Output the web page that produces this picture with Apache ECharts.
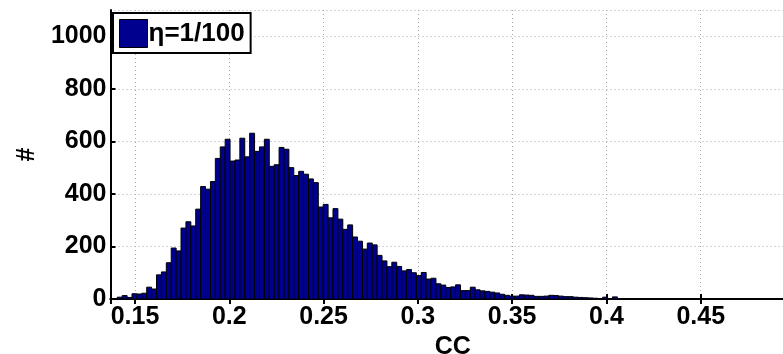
<!DOCTYPE html>
<html>
<head>
<meta charset="utf-8">
<script src="https://cdn.jsdelivr.net/npm/echarts@6/dist/echarts.min.js"></script>
<style>
  html, body { margin: 0; padding: 0; background: #fff; }
  #chart { width: 783px; height: 354px; }
</style>
</head>
<body>
<div id="chart"></div>
<script>
// histogram of CC, eta = 1/100 (bin counts)
const binStart = 0.1406;
const binWidth = 0.0026;
const counts = [
  7, 13, 6, 20, 19, 22, 45, 38, 92, 103,
  138, 194, 183, 270, 294, 278, 342, 428, 418, 447,
  535, 579, 608, 525, 529, 612, 541, 631, 562, 579,
  608, 505, 511, 577, 570, 500, 470, 486, 475, 457,
  443, 350, 360, 309, 344, 304, 265, 282, 236, 220,
  190, 213, 206, 166, 145, 123, 140, 124, 107, 112,
  100, 89, 101, 76, 79, 58, 53, 44, 46, 54,
  32, 32, 45, 35, 31, 29, 26, 23, 18, 14,
  11, 11, 16, 15, 14, 10, 10, 11, 14, 13,
  11, 9, 9, 7, 6, 5, 4, 3, 1, 7,
  0, 8
];
const seriesName = 'η=1/100';
const xName = 'CC';
const yName = '#';

const FONT = "'Liberation Sans', Arial, sans-serif";
const bins = counts.map((c, i) => [binStart + i * binWidth, binStart + (i + 1) * binWidth, c]);

const chart = echarts.init(document.getElementById('chart'));

const labelStyle = {color: '#000', fontFamily: FONT, fontWeight: 'bold', fontSize: 25};
const grid = {type: [1, 3], color: '#a8a8a8', width: 1};

chart.setOption({
  animation: false,
  grid: {left: 110.5, right: -12, top: 10, bottom: 55, outerBoundsMode: 'none', containLabel: false},
  legend: {
    left: 113, top: 13,
    padding: [6, 6, 5, 6],
    backgroundColor: '#fff',
    borderColor: '#000', borderWidth: 2, borderRadius: 0,
    itemWidth: 28, itemHeight: 28,
    icon: 'rect',
    itemStyle: {borderColor: '#000', borderWidth: 1},
    textStyle: {color: '#000', fontFamily: FONT, fontWeight: 'bold', fontSize: 26, padding: [0, 0, 0, -4]},
    data: [seriesName]
  },
  xAxis: [{
    type: 'value', min: 0.137, max: 0.5, splitNumber: 7,
    name: xName, nameLocation: 'middle', nameGap: 27,
    nameTextStyle: {color: '#000', fontFamily: FONT, fontWeight: 'bold', fontSize: 25},
    axisLine: {show: true, onZero: false, lineStyle: {color: '#000', width: 2}},
    axisTick: {show: true, inside: true, length: 5, lineStyle: {color: '#000', width: 2}},
    axisLabel: Object.assign({margin: 6, showMinLabel: false, showMaxLabel: false}, labelStyle),
    splitLine: {show: true, lineStyle: grid}
  }, {
    type: 'value', position: 'top', min: 0.137, max: 0.5, splitNumber: 7,
    axisLine: {show: true, lineStyle: {color: '#000', width: 2}},
    axisTick: {show: true, inside: true, length: 5, lineStyle: {color: '#000', width: 2}},
    axisLabel: {show: false},
    splitLine: {show: false}
  }],
  yAxis: {
    type: 'value', min: 0, max: 1100, interval: 200,
    name: yName, nameLocation: 'middle', nameGap: 62, nameRotate: 90,
    nameTextStyle: {color: '#000', fontFamily: FONT, fontWeight: 'bold', fontSize: 25},
    axisLine: {show: true, lineStyle: {color: '#000', width: 2}},
    axisTick: {show: true, inside: true, length: 5, lineStyle: {color: '#000', width: 2}},
    axisLabel: Object.assign({margin: 4, showMaxLabel: false, formatter: v => String(v)}, labelStyle),
    splitLine: {show: true, lineStyle: grid}
  },
  series: [{
    name: seriesName,
    type: 'custom',
    itemStyle: {color: '#00008F'},
    encode: {x: [0, 1], y: 2},
    data: bins,
    renderItem: (params, api) => {
      const top = api.coord([api.value(0), api.value(2)]);
      const bottom = api.coord([api.value(1), 0]);
      return {
        type: 'rect',
        shape: {x: top[0], y: top[1], width: bottom[0] - top[0], height: bottom[1] - top[1]},
        style: {fill: '#00008F', stroke: '#000', lineWidth: 1}
      };
    }
  }]
});
</script>
</body>
</html>
